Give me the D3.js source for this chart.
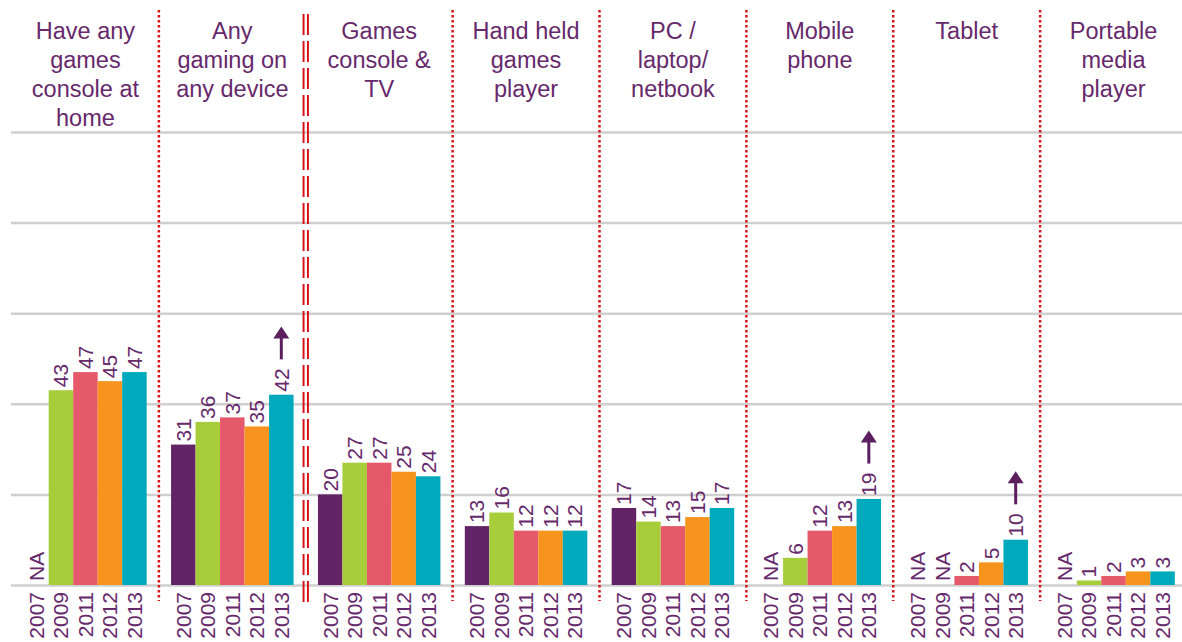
<!DOCTYPE html>
<html>
<head>
<meta charset="utf-8">
<script src="https://cdn.jsdelivr.net/npm/d3@7"></script>
<style>
  body { margin: 0; background: #fff; }
  text { font-family: Arial, "Liberation Sans", sans-serif; fill: #66296b; }
</style>
</head>
<body>
<div class="chartContainer"></div>
<script>
// data (null = NA)
var categories = ['Have any games console at home', 'Any gaming on any device', 'Games console & TV',
    'Hand held games player', 'PC / laptop/ netbook', 'Mobile phone', 'Tablet', 'Portable media player']
var titleLines = [
    ['Have any', 'games', 'console at', 'home'],
    ['Any', 'gaming on', 'any device'],
    ['Games', 'console &', 'TV'],
    ['Hand held', 'games', 'player'],
    ['PC /', 'laptop/', 'netbook'],
    ['Mobile', 'phone'],
    ['Tablet'],
    ['Portable', 'media', 'player']
]
var years = ['2007', '2009', '2011', '2012', '2013']
var v2007 = [null, 31, 20, 13, 17, null, null, null]
var v2009 = [43, 36, 27, 16, 14, 6, null, 1]
var v2011 = [47, 37, 27, 12, 13, 12, 2, 2]
var v2012 = [45, 35, 25, 12, 15, 13, 5, 3]
var v2013 = [47, 42, 24, 12, 17, 19, 10, 3]
var gridTicks = [0, 20, 40, 60, 80, 100]
// categories where the 2013 value gets an "up" arrow
var arrowCats = ['Any gaming on any device', 'Mobile phone', 'Tablet']

var colors = ['#622466', '#a8cd3a', '#e6596b', '#f7941e', '#00a9bc']
var series = [v2007, v2009, v2011, v2012, v2013]

var width = 1182, height = 642
var gridLeft = 11, gridRight = 1182, plotTop = 132, baseline = 585

var svg = d3.select('.chartContainer')
    .append('svg')
    .attr('width', width)
    .attr('height', height)

var y = d3.scaleLinear().domain([0, 100]).range([baseline, plotTop])

var x0 = d3.scaleBand()
    .domain(categories)
    .range([12, 1187])
    .paddingInner(0.166)
    .paddingOuter(0.083)

var x1 = d3.scaleBand()
    .domain(years)
    .range([0, x0.bandwidth()])

// flatten into bar records
var bars = []
categories.forEach(function (c, i) {
    years.forEach(function (yr, j) {
        bars.push({ cat: c, year: yr, value: series[j][i], color: colors[j] })
    })
})

// Gridlines
svg.append('g')
    .attr('class', 'grid')
    .attr('transform', 'translate(' + gridLeft + ',0)')
    .call(d3.axisLeft(y).tickValues(gridTicks).tickSize(-(gridRight - gridLeft)).tickFormat(''))
    .call(function (g) { g.select('.domain').remove() })
    .selectAll('line')
    .attr('stroke', '#cfcfcf')
    .attr('stroke-width', 2.5)

// Dividers between groups
var step = x0.step()
categories.slice(1).forEach(function (c, i) {
    var xm = x0(c) - (step - x0.bandwidth()) / 2
    if (i === 1) {
        // double dashed line between "any device" and the device groups
        [-2.2, 2.2].forEach(function (off) {
            svg.append('line')
                .attr('x1', xm + off).attr('x2', xm + off)
                .attr('y1', 14).attr('y2', 606)
                .attr('stroke', '#d7141a')
                .attr('stroke-width', 2)
                .attr('stroke-dasharray', '21,6')
        })
    } else {
        svg.append('line')
            .attr('x1', xm).attr('x2', xm)
            .attr('y1', 10).attr('y2', 601)
            .attr('stroke', '#d7141a')
            .attr('stroke-width', 2.5)
            .attr('stroke-dasharray', '2.5,2.5')
    }
})

// Bars
svg.append('g')
    .selectAll('rect')
    .data(bars.filter(function (d) { return d.value != null }))
    .enter()
    .append('rect')
    .attr('x', function (d) { return x0(d.cat) + x1(d.year) })
    .attr('y', function (d) { return y(d.value) })
    .attr('width', x1.bandwidth())
    .attr('height', function (d) { return y(0) - y(d.value) })
    .attr('fill', function (d) { return d.color })

function cx(d) { return x0(d.cat) + x1(d.year) + x1.bandwidth() / 2 }

// Value labels (NA sits on the baseline)
var labels = svg.append('g')
    .selectAll('text')
    .data(bars)
    .enter()
    .append('text')
    .attr('transform', function (d) {
        var yy = d.value == null ? y(0) - 4 : y(d.value) - 3
        return 'translate(' + cx(d) + ',' + yy + ') rotate(-90)'
    })
    .attr('dy', '0.35em')
    .attr('font-size', 21)
    .text(function (d) { return d.value == null ? 'NA' : d.value })

// Arrows above flagged 2013 labels
labels.filter(function (d) { return d.year === '2013' && arrowCats.indexOf(d.cat) >= 0 })
    .each(function (d) {
        var len = this.getComputedTextLength()
        var yb = y(d.value) - 3 - len - 9
        var yt = yb - 33
        var xc = cx(d)
        svg.append('line')
            .attr('x1', xc).attr('x2', xc)
            .attr('y1', yb).attr('y2', yt + 8)
            .attr('stroke', '#5b1f5f')
            .attr('stroke-width', 3)
        svg.append('path')
            .attr('d', 'M' + (xc - 8) + ',' + (yt + 12) + 'L' + xc + ',' + yt + 'L' + (xc + 8) + ',' + (yt + 12) + 'Z')
            .attr('fill', '#5b1f5f')
    })

// Year labels under each bar
svg.append('g')
    .selectAll('text')
    .data(bars)
    .enter()
    .append('text')
    .attr('transform', function (d) { return 'translate(' + cx(d) + ',' + (baseline + 7) + ') rotate(-90)' })
    .attr('dy', '0.35em')
    .attr('text-anchor', 'end')
    .attr('font-size', 21)
    .text(function (d) { return d.year })

// Category titles
var titles = svg.append('g')
    .selectAll('text')
    .data(categories)
    .enter()
    .append('text')
    .attr('x', function (d) { return x0(d) + x0.bandwidth() / 2 })
    .attr('y', 39)
    .attr('text-anchor', 'middle')
    .attr('font-size', 23.5)

titles.selectAll('tspan')
    .data(function (d, i) { return titleLines[i] })
    .enter()
    .append('tspan')
    .attr('x', function () { var p = this.parentNode.__data__; return x0(p) + x0.bandwidth() / 2 })
    .attr('dy', function (d, i) { return i === 0 ? 0 : 29 })
    .text(function (d) { return d })
</script>
</body>
</html>
